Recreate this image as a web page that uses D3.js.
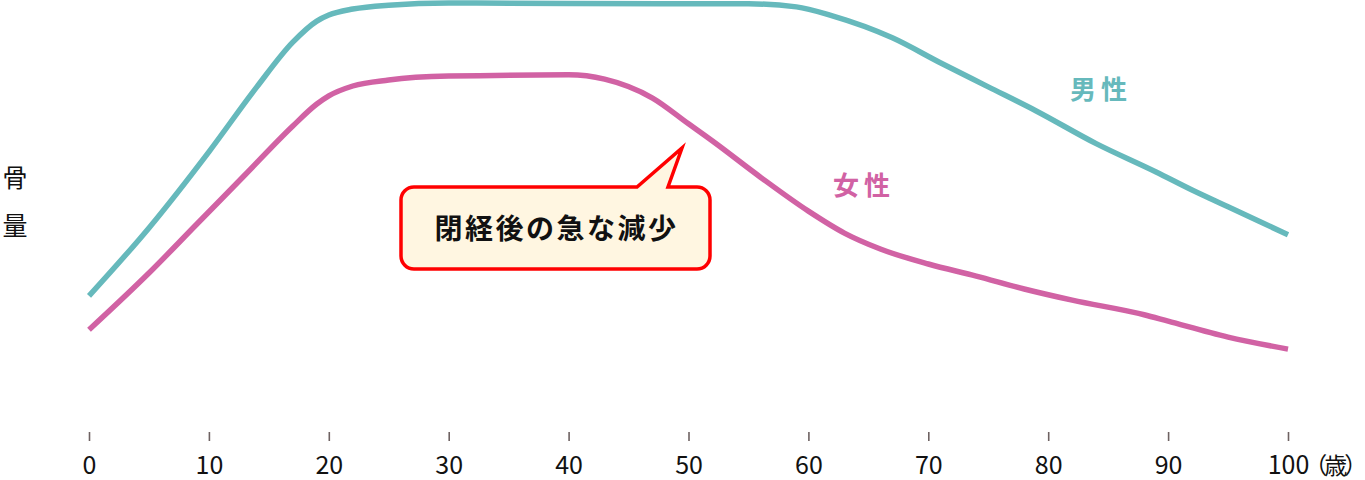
<!DOCTYPE html>
<html>
<head>
<meta charset="utf-8">
<script src="https://cdn.jsdelivr.net/npm/d3@7"></script>
<style>
  body { margin: 0; background: #fff; }
  svg { display: block; font-family: "Noto Sans CJK JP", "Noto Sans", sans-serif; }
</style>
</head>
<body>
<div id="chart"></div>
<script>
// ages (years) and bone mass (relative units, 0-100)
var maleAges = [0, 5, 10, 14, 17, 19, 20, 22, 25, 30, 40, 50, 55, 59, 62, 67, 71, 75, 79, 84, 89, 92, 95, 100];
var maleValues = [31.2, 47.0, 64.7, 79.8, 90.2, 95.1, 96.5, 97.9, 98.8, 99.3, 99.2, 99.1, 99.1, 98.4, 96.3, 91.2, 85.4, 79.8, 74.2, 66.6, 60.0, 55.8, 51.9, 45.4];

var femaleAges = [0, 5, 9, 13, 17, 19, 20, 22, 25, 30, 40, 43, 47, 50, 52, 56, 60, 63, 66, 70, 74, 78, 82, 88, 90, 95, 100];
var femaleValues = [23.3, 36.5, 47.9, 59.3, 70.7, 75.8, 77.7, 80.0, 81.4, 82.3, 82.6, 81.6, 77.2, 71.2, 67.2, 58.8, 50.9, 45.8, 42.1, 38.6, 35.8, 32.8, 30.2, 26.8, 25.3, 21.6, 18.8];

var tickValues = [0, 10, 20, 30, 40, 50, 60, 70, 80, 90, 100];
var unitLabel = "（歳）";
var yLabel = ["骨", "量"];
var seriesNames = ["男性", "女性"];
var calloutText = "閉経後の急な減少";

var width = 1365, height = 480;

var svg = d3.select("#chart")
  .append("svg")
  .attr("width", width)
  .attr("height", height);

var x = d3.scaleLinear().domain([0, 100]).range([89, 1288]);
var y = d3.scaleLinear().domain([0, 100]).range([430, 0]);

// x axis: ticks only, no domain line
var xAxis = svg.append("g")
  .attr("transform", "translate(0,432)")
  .call(d3.axisBottom(x).tickValues(tickValues).tickSize(9).tickPadding(15)
    .tickFormat(function(d) { return d; }));
xAxis.select(".domain").remove();
xAxis.selectAll(".tick line").attr("stroke", "#6e6262").attr("stroke-width", 1.6);
xAxis.selectAll(".tick text")
  .attr("fill", "#111")
  .attr("font-size", 25)
  .attr("font-family", "'Noto Sans CJK JP', sans-serif");

// last tick gets the unit appended, keeping "100" centred on its tick
var lastTick = xAxis.selectAll(".tick text").filter(function(d) { return d === 100; });
var numW = lastTick.node().getComputedTextLength();
lastTick.attr("text-anchor", "start").attr("x", -numW / 2);
lastTick.append("tspan")
  .attr("font-size", 23)
  .attr("dx", -5)
  .attr("letter-spacing", -3)
  .text(unitLabel);

// y label, vertical
svg.selectAll(".ylab")
  .data(yLabel)
  .enter().append("text")
  .attr("class", "ylab")
  .attr("x", 15)
  .attr("y", function(d, i) { return 187 + i * 48; })
  .attr("text-anchor", "middle")
  .attr("font-size", 25)
  .attr("fill", "#111")
  .text(function(d) { return d; });

var line = d3.line()
  .x(function(d) { return x(d[0]); })
  .y(function(d) { return y(d[1]); })
  .curve(d3.curveMonotoneX);

var maleData = d3.zip(maleAges, maleValues);
var femaleData = d3.zip(femaleAges, femaleValues);

svg.append("path")
  .datum(maleData)
  .attr("fill", "none")
  .attr("stroke", "#66b9bc")
  .attr("stroke-width", 5.5)
  .attr("d", line);

svg.append("path")
  .datum(femaleData)
  .attr("fill", "none")
  .attr("stroke", "#d162a4")
  .attr("stroke-width", 5.5)
  .attr("d", line);

// series labels
svg.append("text")
  .attr("x", 1101).attr("y", 99)
  .attr("text-anchor", "middle")
  .attr("font-size", 26).attr("font-weight", "bold")
  .attr("letter-spacing", 5)
  .attr("fill", "#66b9bc")
  .text(seriesNames[0]);

svg.append("text")
  .attr("x", 864).attr("y", 195)
  .attr("text-anchor", "middle")
  .attr("font-size", 26).attr("font-weight", "bold")
  .attr("letter-spacing", 5)
  .attr("fill", "#d162a4")
  .text(seriesNames[1]);

// callout bubble
var bx0 = 401, by0 = 187, bx1 = 710, by1 = 269, r = 13;
var tipX = 682, tipY = 148, baseL = 637, baseR = 668;
var p = d3.path();
p.moveTo(bx0 + r, by0);
p.lineTo(baseL, by0);
p.lineTo(tipX, tipY);
p.lineTo(baseR, by0);
p.lineTo(bx1 - r, by0);
p.arcTo(bx1, by0, bx1, by0 + r, r);
p.lineTo(bx1, by1 - r);
p.arcTo(bx1, by1, bx1 - r, by1, r);
p.lineTo(bx0 + r, by1);
p.arcTo(bx0, by1, bx0, by1 - r, r);
p.lineTo(bx0, by0 + r);
p.arcTo(bx0, by0, bx0 + r, by0, r);
p.closePath();

svg.append("path")
  .attr("d", p.toString())
  .attr("fill", "#fff6e1")
  .attr("stroke", "#ff0000")
  .attr("stroke-width", 3.5)
  .attr("stroke-linejoin", "miter");

svg.append("text")
  .attr("x", (bx0 + bx1) / 2 + 1)
  .attr("y", 227)
  .attr("dominant-baseline", "central")
  .attr("text-anchor", "middle")
  .attr("font-size", 28).attr("font-weight", "bold")
  .attr("letter-spacing", 2.5)
  .attr("fill", "#111")
  .text(calloutText);
</script>
</body>
</html>
